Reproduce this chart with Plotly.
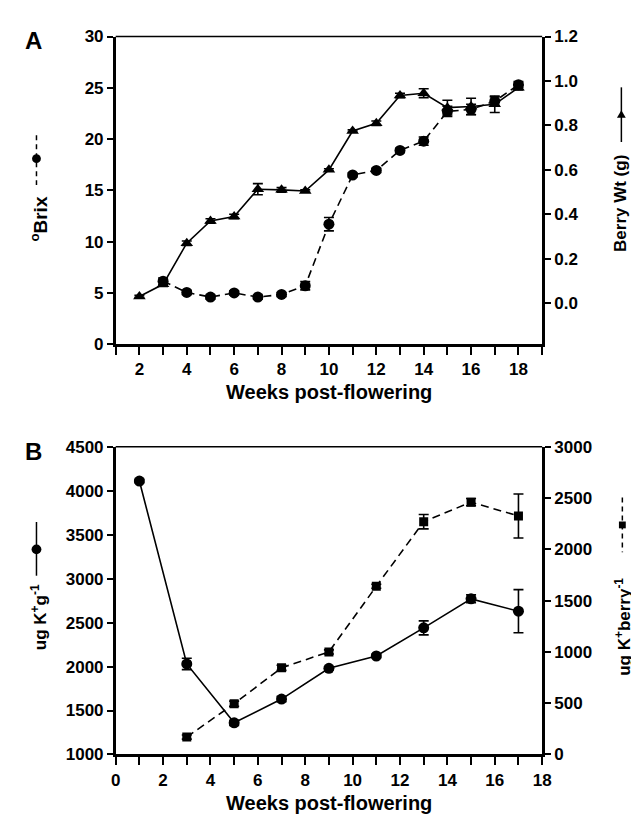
import plotly.graph_objects as go

# ---------------- Data ----------------
# Panel A
weeks_brix = [3, 4, 5, 6, 7, 8, 9, 10, 11, 12, 13, 14, 15, 16, 17, 18]
brix = [6.15, 5.05, 4.6, 5.0, 4.6, 4.85, 5.7, 11.7, 16.5, 16.95, 18.9, 19.8, 22.7, 22.9, 23.7, 25.3]
brix_err = [0.3, 0.2, 0.2, 0.2, 0.2, 0.2, 0.4, 0.65, 0.2, 0.2, 0.2, 0.4, 0.5, 0.5, 0.4, 0.3]

weeks_berry = [2, 3, 4, 5, 6, 7, 8, 9, 10, 11, 12, 13, 14, 15, 16, 17, 18]
berry_wt = [0.03, 0.085, 0.27, 0.37, 0.39, 0.513, 0.51, 0.505, 0.60, 0.775, 0.81, 0.935, 0.945, 0.88, 0.885, 0.895, 0.97]
berry_err = [0.005, 0.01, 0.01, 0.01, 0.01, 0.025, 0.01, 0.005, 0.005, 0.005, 0.01, 0.01, 0.02, 0.033, 0.037, 0.037, 0.01]

# Panel B
weeks_kg = [1, 3, 5, 7, 9, 11, 13, 15, 17]
k_per_g = [4110, 2030, 1360, 1630, 1980, 2120, 2440, 2770, 2630]
k_per_g_err = [20, 65, 30, 30, 20, 20, 80, 45, 245]

weeks_kb = [3, 5, 7, 9, 11, 13, 15, 17]
k_per_berry = [170, 495, 845, 1000, 1640, 2270, 2460, 2325]
k_per_berry_err = [20, 25, 25, 20, 20, 70, 35, 215]

# Tick labels
xA_ticks = [2, 4, 6, 8, 10, 12, 14, 16, 18]
brix_ticks = [0, 5, 10, 15, 20, 25, 30]
berry_ticks = [0.0, 0.2, 0.4, 0.6, 0.8, 1.0, 1.2]
xB_ticks = [0, 2, 4, 6, 8, 10, 12, 14, 16, 18]
kg_ticks = [1000, 1500, 2000, 2500, 3000, 3500, 4000, 4500]
kb_ticks = [0, 500, 1000, 1500, 2000, 2500, 3000]

# ---------------- Layout helpers ----------------
W, H = 639, 818
def px(x):
    return x / W
def py(y):
    return 1 - y / H

FONT = "Liberation Sans, Arial, sans-serif"
BLACK = "#000000"
DASH = "8px,5px"

fig = go.Figure()

def err(arr):
    return dict(type="data", array=arr, visible=True, color=BLACK, thickness=1.6, width=5)

fig.add_trace(go.Scatter(x=weeks_brix, y=brix, error_y=err(brix_err), mode="lines+markers",
                         line=dict(color=BLACK, width=1.6, dash=DASH),
                         marker=dict(symbol="circle", size=11, color=BLACK),
                         xaxis="x", yaxis="y", showlegend=False))
fig.add_trace(go.Scatter(x=weeks_berry, y=berry_wt, error_y=err(berry_err), mode="lines+markers",
                         line=dict(color=BLACK, width=1.6),
                         marker=dict(symbol="triangle-up", size=11, color=BLACK),
                         xaxis="x", yaxis="y2", showlegend=False))
fig.add_trace(go.Scatter(x=weeks_kg, y=k_per_g, error_y=err(k_per_g_err), mode="lines+markers",
                         line=dict(color=BLACK, width=1.6),
                         marker=dict(symbol="circle", size=11, color=BLACK),
                         xaxis="x2", yaxis="y3", showlegend=False))
fig.add_trace(go.Scatter(x=weeks_kb, y=k_per_berry, error_y=err(k_per_berry_err), mode="lines+markers",
                         line=dict(color=BLACK, width=1.6, dash=DASH),
                         marker=dict(symbol="square", size=9, color=BLACK),
                         xaxis="x2", yaxis="y4", showlegend=False))

tickfont = dict(family=FONT, size=17, color=BLACK)
axis_common = dict(showline=True, linecolor=BLACK, linewidth=2.5, ticks="outside",
                   tickwidth=2, tickcolor=BLACK, showgrid=False, zeroline=False,
                   tickfont=tickfont, tickmode="array")

def bold(vals, fmt="{}"):
    return ["<b>" + fmt.format(v) + "</b>" for v in vals]

xdom = [px(105), px(541)]
ydomA = [py(335), py(20)]
ydomB = [py(755), py(440)]

minor = dict(ticks="outside", dtick=1, ticklen=8, tickwidth=2, tickcolor=BLACK)

fig.update_layout(
    width=W, height=H,
    margin=dict(l=0, r=0, t=0, b=0),
    plot_bgcolor="white", paper_bgcolor="white",
    xaxis=dict(domain=xdom, anchor="y", range=[1, 19], tickvals=xA_ticks, ticktext=bold(xA_ticks),
               ticklen=8, minor=dict(tick0=1, **minor), **axis_common),
    yaxis=dict(domain=ydomA, anchor="x", range=[0, 30], tickvals=brix_ticks, ticktext=bold(brix_ticks),
               ticklen=6, **axis_common),
    yaxis2=dict(overlaying="y", side="right", anchor="x", range=[-0.1846, 1.2],
                tickvals=berry_ticks, ticktext=bold(berry_ticks, "{:.1f}"), ticklen=6, **axis_common),
    xaxis2=dict(domain=xdom, anchor="y3", range=[0, 18], tickvals=xB_ticks, ticktext=bold(xB_ticks),
                ticklen=8, minor=dict(tick0=0, **minor), **axis_common),
    yaxis3=dict(domain=ydomB, anchor="x2", range=[1000, 4500], tickvals=kg_ticks, ticktext=bold(kg_ticks),
                ticklen=6, **axis_common),
    yaxis4=dict(overlaying="y3", side="right", anchor="x2", range=[0, 3000], tickvals=kb_ticks,
                ticktext=bold(kb_ticks), ticklen=6, **axis_common),
)

shapes = []
# top borders
for ytop in (20, 440):
    shapes.append(dict(type="line", xref="paper", yref="paper", x0=px(105), x1=px(541),
                       y0=py(ytop), y1=py(ytop), line=dict(color=BLACK, width=1.5)))

def vline(x, y0, y1, dash=None):
    ln = dict(color=BLACK, width=1.5)
    if dash:
        ln["dash"] = dash
    return dict(type="line", xref="paper", yref="paper", x0=px(x), x1=px(x), y0=py(y0), y1=py(y1), line=ln)

def circ(cx, cy, r):
    return dict(type="circle", xref="paper", yref="paper", x0=px(cx - r), x1=px(cx + r),
                y0=py(cy + r), y1=py(cy - r), fillcolor=BLACK, line=dict(color=BLACK, width=0))

def rect(cx, cy, r):
    return dict(type="rect", xref="paper", yref="paper", x0=px(cx - r), x1=px(cx + r),
                y0=py(cy + r), y1=py(cy - r), fillcolor=BLACK, line=dict(color=BLACK, width=0))

def tri(cx, cy, r):
    path = "M {},{} L {},{} L {},{} Z".format(px(cx), py(cy - r), px(cx - r), py(cy + r * 0.7),
                                              px(cx + r), py(cy + r * 0.7))
    return dict(type="path", xref="paper", yref="paper", path=path, fillcolor=BLACK, line=dict(color=BLACK, width=0))

# legend glyphs next to axis titles
shapes += [vline(24, 121, 172, "5px,4px"), circ(24, 145, 4.5)]
shapes += [vline(622, 72, 128), tri(622, 100, 4.5)]
shapes += [vline(24, 517, 572), circ(24, 545, 5)]
shapes += [vline(623, 492, 548, "5px,4px"), rect(623, 520, 3.5)]
fig.update_layout(shapes=shapes)

def ann(text, x, y, size, angle=0):
    return dict(text=text, x=px(x), y=py(y), xref="paper", yref="paper", showarrow=False,
                xanchor="center", yanchor="middle", textangle=angle,
                font=dict(family=FONT, size=size, color=BLACK))

annotations = [
    ann("<b>A</b>", 21, 24, 24),
    ann("<b>B</b>", 21, 445, 24),
    ann("<b>Weeks post-flowering</b>", 323, 384, 20),
    ann("<b>Weeks post-flowering</b>", 323, 805, 20),
    ann("<b><sup>o</sup>Brix</b>", 27, 206, 19, -90),
    ann("<b>Berry Wt (g)</b>", 621, 191, 17, -90),
    ann("<b>ug K<sup>+</sup>g<sup>-1</sup></b>", 26, 614, 17, -90),
    ann("<b>ug K<sup>+</sup>berry<sup>-1</sup></b>", 623, 624, 17, -90),
]
fig.update_layout(annotations=annotations)

fig.write_html("out.html")
